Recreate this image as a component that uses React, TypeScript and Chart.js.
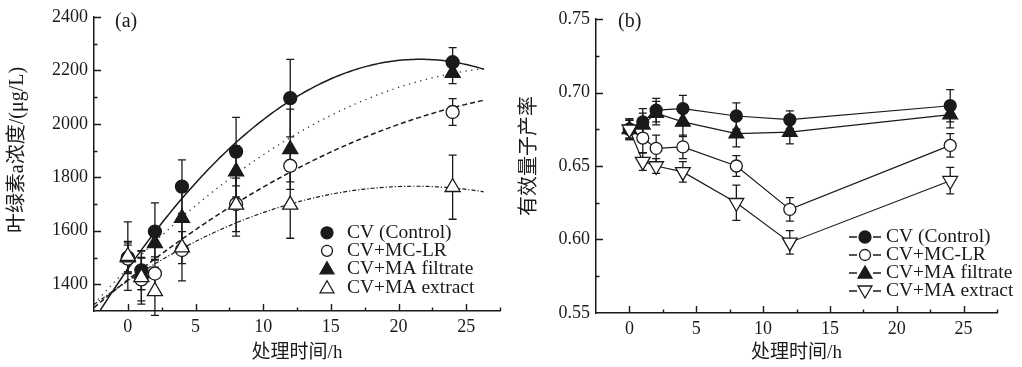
import React, { useEffect, useRef } from "react";
import { Chart, registerables } from "chart.js";

Chart.register(...registerables);

// ---------- data ----------
const hours = [0, 1, 2, 4, 8, 12, 24];
const legendLabels = ["CV (Control)", "CV+MC-LR", "CV+MA filtrate", "CV+MA extract"];

// Panel (a): chlorophyll-a concentration (μg/L)
const chlControl = [1500, 1452, 1597, 1765, 1896, 2096, 2230];
const chlControlErr = [60, 72, 107, 100, 128, 145, 55];
const chlMcLr = [1496, 1418, 1440, 1528, 1700, 1843, 2044];
const chlMcLrErr = [50, 80, 62, 115, 120, 60, 50];
const chlFiltrate = [1500, 1440, 1553, 1648, 1822, 1905, 2190];
const chlFiltrateErr = [55, 60, 60, 120, 95, 150, 40];
const chlExtract = [1505, 1426, 1374, 1537, 1697, 1697, 1763];
const chlExtractErr = [128, 100, 90, 60, 100, 125, 120];

// quadratic regression curves printed in panel (a): a + b·t + c·t²
const fitControl = [1457.2, 72.58, -1.68];
const fitMcLr = [1416.6, 40.25, -0.56];
const fitFiltrate = [1459.8, 51.0, -0.86];
const fitExtract = [1412.4, 33.45, -0.79];
const fitSpan = [-2.5, 26.4];

// Panel (b): effective quantum yield
const yieldControl = [0.675, 0.68, 0.688, 0.689, 0.684, 0.6815, 0.691];
const yieldControlErr = [0.007, 0.009, 0.008, 0.009, 0.009, 0.006, 0.011];
const yieldMcLr = [0.675, 0.669, 0.662, 0.663, 0.65, 0.6205, 0.664];
const yieldMcLrErr = [0.006, 0.01, 0.009, 0.008, 0.007, 0.008, 0.008];
const yieldFiltrate = [0.675, 0.678, 0.686, 0.68, 0.672, 0.673, 0.685];
const yieldFiltrateErr = [0.006, 0.008, 0.008, 0.01, 0.009, 0.008, 0.009];
const yieldExtract = [0.675, 0.653, 0.65, 0.646, 0.625, 0.598, 0.64];
const yieldExtractErr = [0.007, 0.006, 0.005, 0.007, 0.012, 0.008, 0.009];

// ---------- styling ----------
const INK = "#1a1a1a";
const SERIF = "'Liberation Serif', 'Times New Roman', 'Noto Sans CJK SC', serif";

type Marker = { style: string; filled: boolean; r: number; down?: boolean };

const markersA: Marker[] = [
  { style: "circle", filled: true, r: 6.5 },
  { style: "circle", filled: false, r: 6.5 },
  { style: "triangle", filled: true, r: 8.7 },
  { style: "triangle", filled: false, r: 8.7 },
];
const markersB: Marker[] = [
  { style: "circle", filled: true, r: 6 },
  { style: "circle", filled: false, r: 6 },
  { style: "triangle", filled: true, r: 8.5 },
  { style: "triangle", filled: false, r: 8.5, down: true },
];

function pts(values: number[]) {
  return hours.map((h, i) => ({ x: h, y: values[i] }));
}

function curve(coef: number[]) {
  const out: { x: number; y: number }[] = [];
  for (let t = fitSpan[0]; t <= fitSpan[1] + 1e-9; t += 0.2) {
    out.push({ x: t, y: coef[0] + coef[1] * t + coef[2] * t * t });
  }
  return out;
}

function drawMarker(ctx: CanvasRenderingContext2D, m: Marker, x: number, y: number, r: number) {
  ctx.save();
  ctx.beginPath();
  if (m.style === "circle") {
    ctx.arc(x, y, r, 0, Math.PI * 2);
  } else {
    const d = m.down ? -1 : 1;
    ctx.moveTo(x, y - d * r);
    ctx.lineTo(x + r * 0.866, y + d * r * 0.5);
    ctx.lineTo(x - r * 0.866, y + d * r * 0.5);
    ctx.closePath();
  }
  ctx.fillStyle = m.filled ? INK : "#ffffff";
  ctx.fill();
  ctx.lineWidth = 1.3;
  ctx.strokeStyle = INK;
  ctx.stroke();
  ctx.restore();
}

const errorBarPlugin = {
  id: "errbars",
  beforeDatasetsDraw(chart: any) {
    const { ctx } = chart;
    const xs = chart.scales.x;
    const ys = chart.scales.y;
    ctx.save();
    ctx.strokeStyle = INK;
    ctx.lineWidth = 1.3;
    chart.data.datasets.forEach((ds: any) => {
      if (!ds.errors) return;
      ds.data.forEach((p: any, i: number) => {
        const e = ds.errors[i];
        const px = xs.getPixelForValue(p.x);
        const top = ys.getPixelForValue(p.y + e);
        const bot = ys.getPixelForValue(p.y - e);
        ctx.beginPath();
        ctx.moveTo(px, top);
        ctx.lineTo(px, bot);
        ctx.moveTo(px - 4, top);
        ctx.lineTo(px + 4, top);
        ctx.moveTo(px - 4, bot);
        ctx.lineTo(px + 4, bot);
        ctx.stroke();
      });
    });
    ctx.restore();
  },
};

const inwardTicksPlugin = {
  id: "inticks",
  afterDraw(chart: any) {
    const { ctx, chartArea: a } = chart;
    const xs = chart.scales.x;
    const ys = chart.scales.y;
    ctx.save();
    ctx.strokeStyle = INK;
    ctx.lineWidth = 1.4;
    ctx.beginPath();
    xs.ticks.forEach((t: any) => {
      const px = Math.round(xs.getPixelForValue(t.value)) + 0.5;
      if (px < a.left + 2) return;
      const len = t.label !== "" ? 7 : 3.5;
      ctx.moveTo(px, a.bottom);
      ctx.lineTo(px, a.bottom - len);
    });
    ys.ticks.forEach((t: any) => {
      const py = Math.round(ys.getPixelForValue(t.value)) + 0.5;
      if (py > a.bottom - 2) return;
      const len = t.label !== "" ? 7 : 3.5;
      ctx.moveTo(a.left, py);
      ctx.lineTo(a.left + len, py);
    });
    ctx.stroke();
    ctx.restore();
  },
};

function makeTextPlugin(cfg: {
  panel: string;
  panelX: number;
  yTitle: string;
  yTitleX: number;
  yTitleY: number;
  xTitleY: number;
  legend: (chart: any) => void;
}) {
  return {
    id: "texts",
    afterDraw(chart: any) {
      const { ctx, chartArea: a } = chart;
      ctx.save();
      ctx.fillStyle = INK;
      ctx.font = `20px ${SERIF}`;
      ctx.textAlign = "left";
      ctx.textBaseline = "middle";
      ctx.fillText(cfg.panel, cfg.panelX, 22);
      ctx.font = `19px ${SERIF}`;
      ctx.textAlign = "center";
      ctx.fillText("处理时间/h", (a.left + a.right) / 2, cfg.xTitleY);
      ctx.translate(cfg.yTitleX, cfg.yTitleY);
      ctx.rotate(-Math.PI / 2);
      ctx.font = `20px ${SERIF}`;
      ctx.fillText(cfg.yTitle, 0, 0);
      ctx.restore();
      cfg.legend(chart);
    },
  };
}

function axisOptions(opts: {
  ymin: number;
  ymax: number;
  ystep: number;
  ylabelEvery: number;
  ydigits: number;
  yWidth: number;
  xHeight: number;
}) {
  const tickFont = { family: SERIF, size: 18 };
  return {
    x: {
      type: "linear",
      min: -2.5,
      max: 27.5,
      grid: { display: false, drawTicks: false },
      border: { display: true, color: INK, width: 1.5 },
      ticks: {
        stepSize: 2.5,
        autoSkip: false,
        maxRotation: 0,
        padding: 5,
        color: INK,
        font: tickFont,
        callback: (v: number) => (Math.abs(v / 5 - Math.round(v / 5)) < 1e-6 ? String(Math.round(v)) : ""),
      },
      afterFit: (s: any) => {
        s.height = opts.xHeight;
      },
    },
    y: {
      type: "linear",
      min: opts.ymin,
      max: opts.ymax,
      grid: { display: false, drawTicks: false },
      border: { display: true, color: INK, width: 1.5 },
      ticks: {
        stepSize: opts.ystep,
        autoSkip: false,
        padding: 6,
        color: INK,
        font: tickFont,
        callback: (v: number) =>
          Math.abs(v / opts.ylabelEvery - Math.round(v / opts.ylabelEvery)) < 1e-6 ? v.toFixed(opts.ydigits) : "",
      },
      afterFit: (s: any) => {
        s.width = opts.yWidth;
      },
    },
  };
}

// drawOrder: lower value is painted later (on top)
function scatterSet(values: number[], errors: number[], m: Marker, showLine: boolean, drawOrder: number) {
  return {
    type: "line",
    data: pts(values),
    errors,
    showLine,
    order: drawOrder,
    borderColor: INK,
    borderWidth: 1.2,
    pointStyle: m.style,
    pointRadius: m.r,
    pointRotation: m.down ? 180 : 0,
    pointBackgroundColor: m.filled ? INK : "#ffffff",
    pointBorderColor: INK,
    pointBorderWidth: 1.3,
    pointHoverRadius: m.r,
  };
}

function fitSet(coef: number[], dash: number[], width: number, color: string) {
  return {
    type: "line",
    data: curve(coef),
    showLine: true,
    order: 10,
    borderColor: color,
    borderWidth: width,
    borderDash: dash,
    pointRadius: 0,
    tension: 0,
  };
}

export default function App() {
  const refA = useRef<HTMLCanvasElement>(null);
  const refB = useRef<HTMLCanvasElement>(null);

  useEffect(() => {
    const seriesA = [
      [chlControl, chlControlErr],
      [chlMcLr, chlMcLrErr],
      [chlFiltrate, chlFiltrateErr],
      [chlExtract, chlExtractErr],
    ];
    const seriesB = [
      [yieldControl, yieldControlErr],
      [yieldMcLr, yieldMcLrErr],
      [yieldFiltrate, yieldFiltrateErr],
      [yieldExtract, yieldExtractErr],
    ];

    const legendA = (chart: any) => {
      const { ctx, chartArea: a } = chart;
      const mx = a.left + 233;
      const rows = [a.top + 216, a.top + 234, a.top + 252, a.top + 271];
      const sizes = [6, 5.5, 8, 8];
      ctx.save();
      ctx.fillStyle = INK;
      ctx.font = `19.5px ${SERIF}`;
      ctx.textAlign = "left";
      ctx.textBaseline = "middle";
      legendLabels.forEach((lab, i) => {
        drawMarker(ctx, markersA[i], mx, rows[i] + (markersA[i].style === "triangle" ? 1 : 0), sizes[i]);
        ctx.fillText(lab, mx + 20, rows[i]);
      });
      ctx.restore();
    };

    const legendB = (chart: any) => {
      const { ctx, chartArea: a } = chart;
      const mx = a.left + 269;
      const rows = [a.top + 218, a.top + 236, a.top + 254, a.top + 272];
      const sizes = [6, 5.5, 8, 8];
      ctx.save();
      ctx.font = `19.5px ${SERIF}`;
      ctx.textAlign = "left";
      ctx.textBaseline = "middle";
      legendLabels.forEach((lab, i) => {
        ctx.strokeStyle = INK;
        ctx.lineWidth = 1.5;
        ctx.beginPath();
        ctx.moveTo(mx - 16, rows[i]);
        ctx.lineTo(mx - 8, rows[i]);
        ctx.moveTo(mx + 8, rows[i]);
        ctx.lineTo(mx + 16, rows[i]);
        ctx.stroke();
        drawMarker(ctx, markersB[i], mx, rows[i] + (markersB[i].style === "triangle" ? (markersB[i].down ? -1 : 1) : 0), sizes[i]);
        ctx.fillStyle = INK;
        ctx.fillText(lab, mx + 21, rows[i]);
      });
      ctx.restore();
    };

    const chartA = new Chart(refA.current as HTMLCanvasElement, {
      type: "line",
      data: {
        datasets: [
          ...seriesA.map(([v, e], i) => scatterSet(v, e, markersA[i], false, 3 - i)),
          fitSet(fitControl, [], 1.5, INK),
          fitSet(fitMcLr, [5, 3], 1.5, INK),
          fitSet(fitFiltrate, [1.3, 4.5], 1.3, "#333"),
          fitSet(fitExtract, [4, 2, 1.2, 2], 1.2, INK),
        ] as any,
      },
      options: {
        animation: false,
        responsive: false,
        devicePixelRatio: 1,
        layout: { padding: { top: 15, right: 10, left: 0, bottom: 0 } },
        plugins: { legend: { display: false }, tooltip: { enabled: false } },
        scales: axisOptions({
          ymin: 1300,
          ymax: 2400,
          ystep: 100,
          ylabelEvery: 200,
          ydigits: 0,
          yWidth: 94,
          xHeight: 56,
        }) as any,
      } as any,
      plugins: [
        errorBarPlugin,
        inwardTicksPlugin,
        makeTextPlugin({
          panel: "(a)",
          panelX: 115,
          yTitle: "叶绿素a浓度/(μg/L)",
          yTitleX: 18,
          yTitleY: 150,
          xTitleY: 353,
          legend: legendA,
        }),
      ],
    });

    const chartB = new Chart(refB.current as HTMLCanvasElement, {
      type: "line",
      data: {
        datasets: seriesB.map(([v, e], i) => scatterSet(v, e, markersB[i], true, 3 - i)) as any,
      },
      options: {
        animation: false,
        responsive: false,
        devicePixelRatio: 1,
        layout: { padding: { top: 19, right: 25, left: 0, bottom: 0 } },
        plugins: { legend: { display: false }, tooltip: { enabled: false } },
        scales: axisOptions({
          ymin: 0.55,
          ymax: 0.75,
          ystep: 0.025,
          ylabelEvery: 0.05,
          ydigits: 2,
          yWidth: 86,
          xHeight: 54,
        }) as any,
      } as any,
      plugins: [
        errorBarPlugin,
        inwardTicksPlugin,
        makeTextPlugin({
          panel: "(b)",
          panelX: 108,
          yTitle: "有效量子产率",
          yTitleX: 20,
          yTitleY: 156,
          xTitleY: 353,
          legend: legendB,
        }),
      ],
    });

    return () => {
      chartA.destroy();
      chartB.destroy();
    };
  }, []);

  return (
    <div style={{ position: "fixed", left: 0, top: 0, width: 1022, height: 367, background: "#ffffff" }}>
      <canvas
        ref={refA}
        width={510}
        height={367}
        style={{ position: "absolute", left: 0, top: 0, width: 510, height: 367 }}
      />
      <canvas
        ref={refB}
        width={512}
        height={367}
        style={{ position: "absolute", left: 510, top: 0, width: 512, height: 367 }}
      />
    </div>
  );
}
